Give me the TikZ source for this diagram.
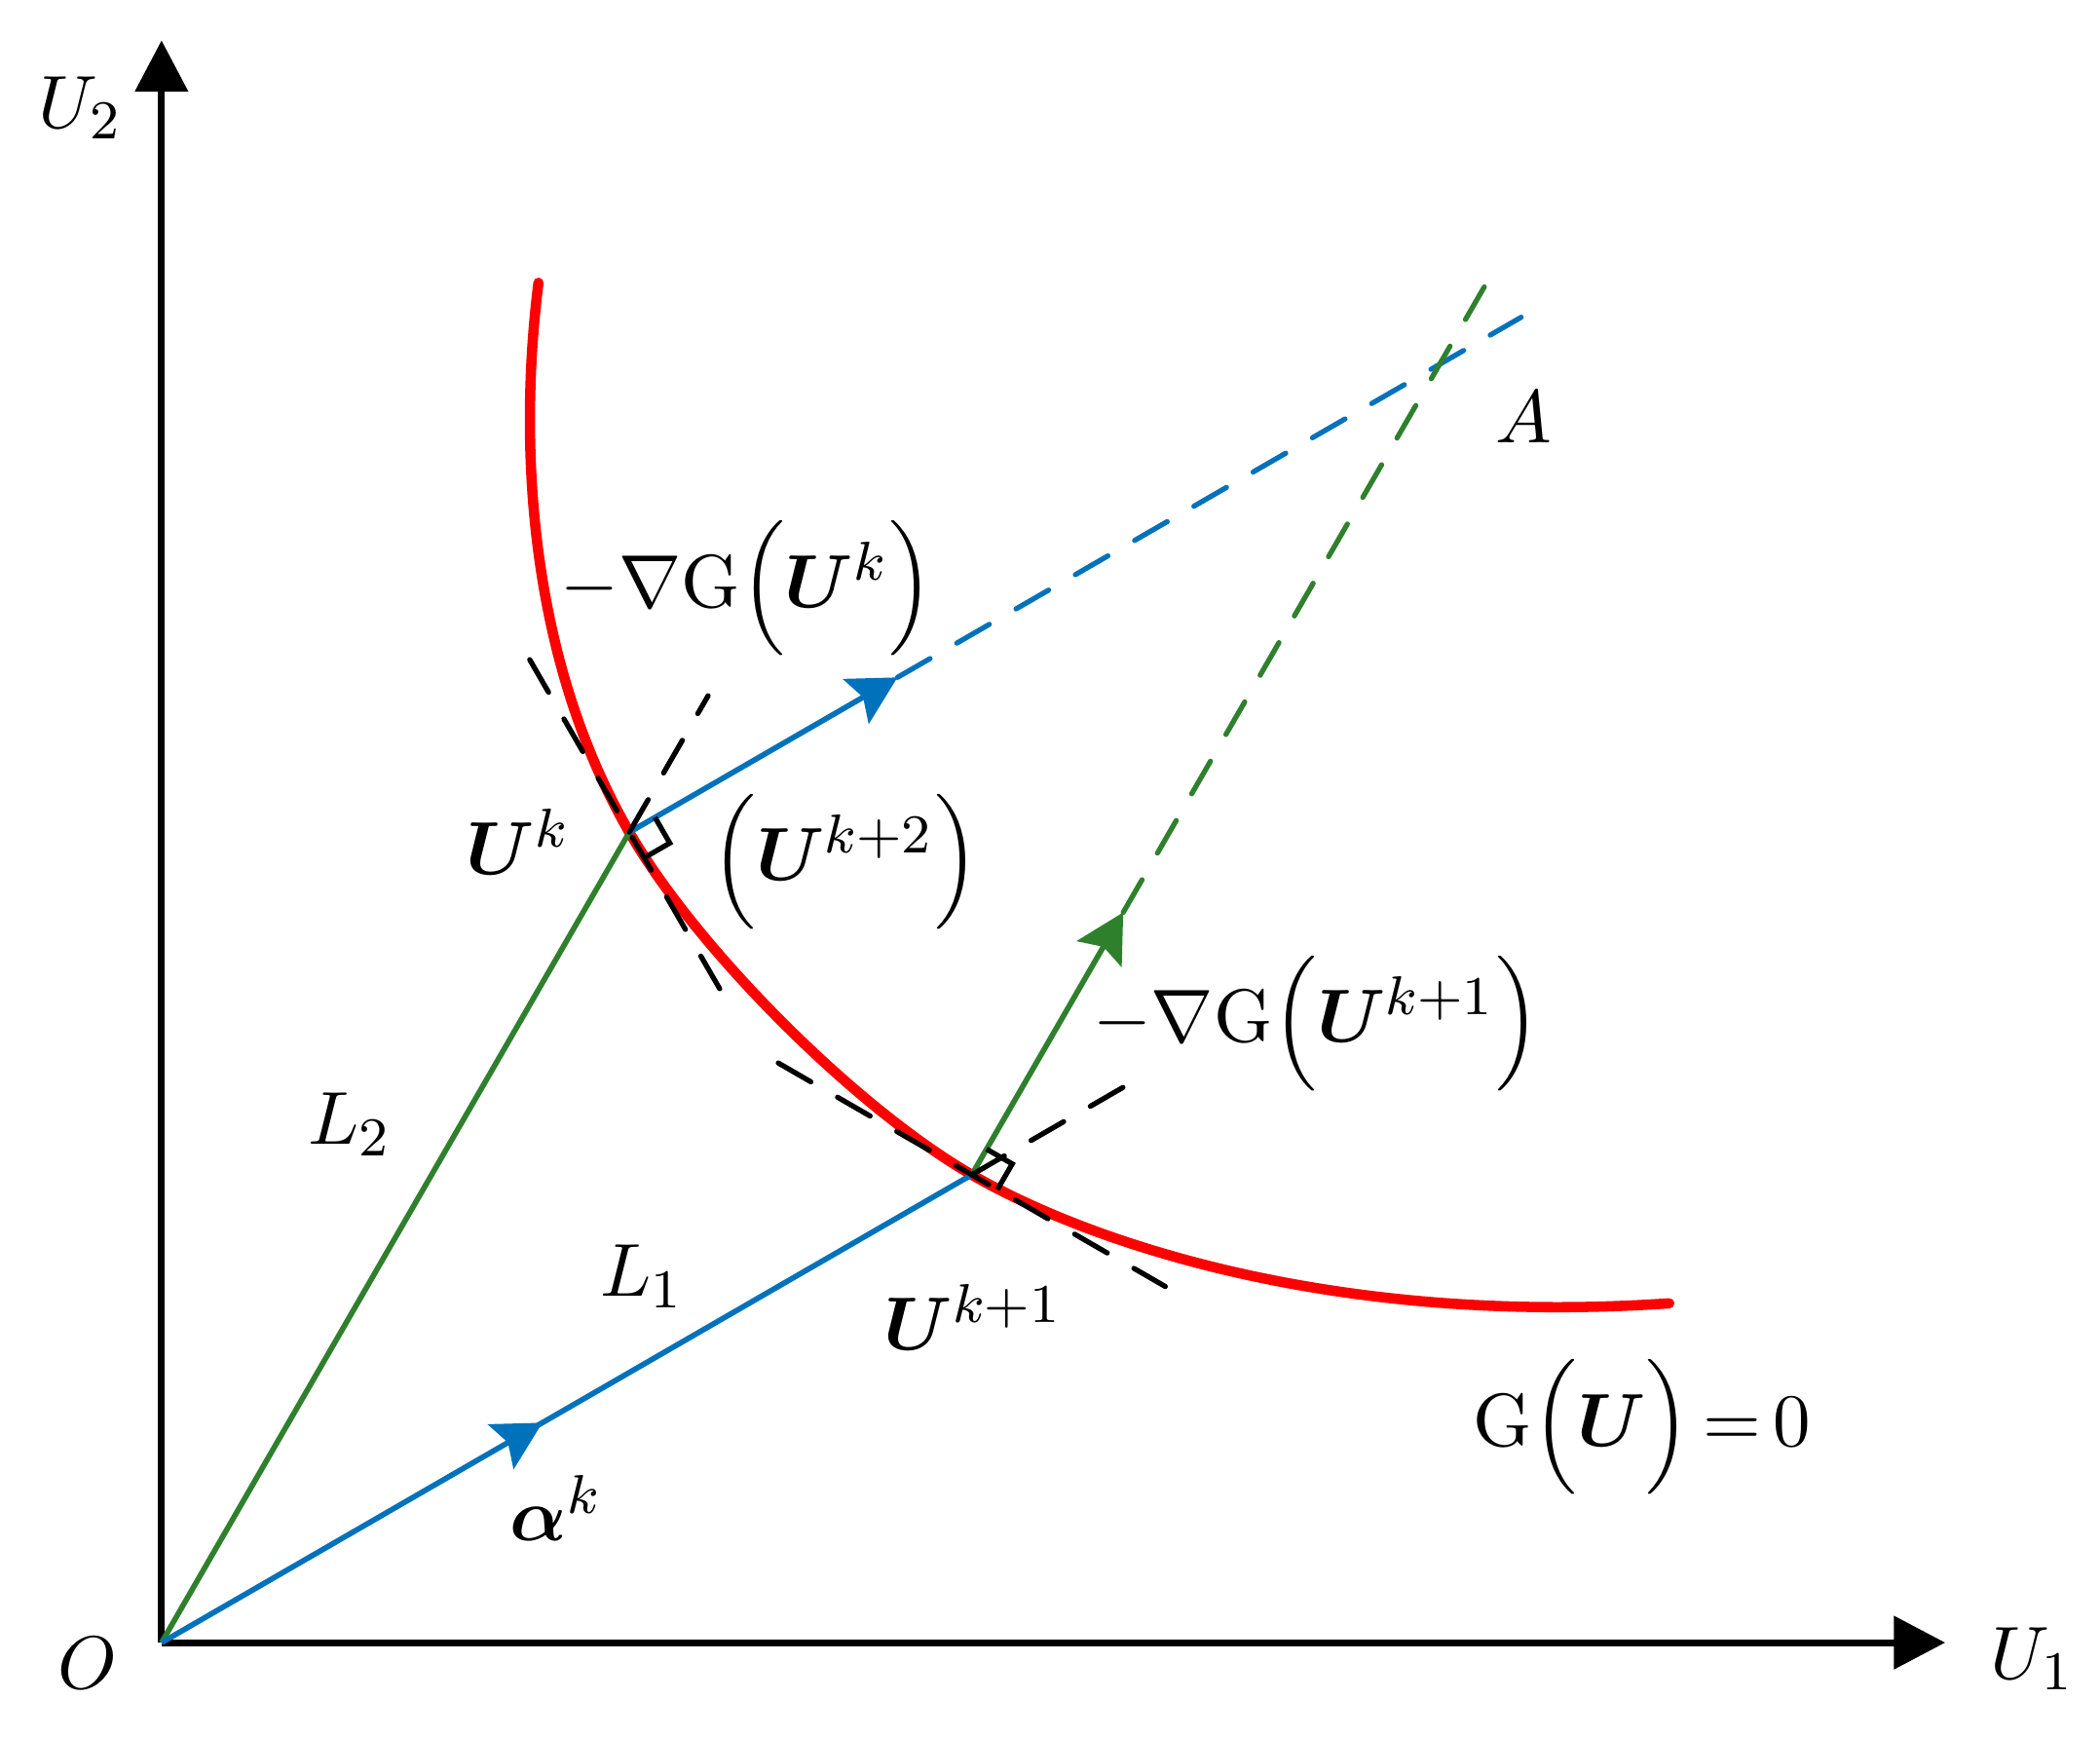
\documentclass[tikz,border=0pt]{standalone}
\usepackage{amsmath}
\usepackage{bm}
\usetikzlibrary{arrows.meta,calc,decorations.markings}

\definecolor{gradblue}{RGB}{0,114,188}
\definecolor{gradgreen}{RGB}{47,128,45}

\tikzset{
  axis/.style={line width=1pt,-{Triangle[length=7.5pt,width=7.6pt]}},
  bluevec/.style={gradblue,line width=0.8pt},
  greenvec/.style={gradgreen,line width=0.8pt},
  dashline/.style={line width=0.75pt,dash pattern=on 5.5pt off 4.5pt,line cap=round},
  vectip/.style={-{Stealth[length=7pt,width=7.5pt,inset=1.2pt]}},
  rightmark/.style={line width=0.75pt},
  curve/.style={red,line width=1.5pt,line cap=round},
  lbl/.style={inner sep=0pt,font=\fontsize{11}{13}\selectfont},
}

\begin{document}
\begin{tikzpicture}[x=0.00691cm,y=0.00691cm]
        \useasboundingbox (0,0) rectangle (1560,1290);

        \coordinate (O) at (120,70);
        \coordinate (Uk) at ($(O)+(60:695)$);
        \coordinate (Uk1) at ($(O)+(30:695)$);
        \coordinate (U2end) at (120,1260);
        \coordinate (U1end) at (1445,70);

        % axes
        \draw[axis] (O) -- (U2end);
        \draw[axis] (O) -- (U1end);

        % the curve G(U)=0
        \draw[curve] (400,1080) .. controls (385,960) and ($(Uk)+(120:150)$) .. (Uk)
              .. controls ($(Uk)+(-60:100)$) and ($(Uk1)+(150:100)$) .. (Uk1)
              .. controls ($(Uk1)+(-30:100)$) and (990,305) .. (1240,322);

        % L_2 and L_1
        \draw[greenvec] (O) -- (Uk);
        \draw[bluevec,postaction={decorate},
              decoration={markings,mark=at position 0.47 with {\arrow{Stealth[length=7pt,width=7.5pt,inset=1.2pt]}}}]
              (O) -- (Uk1);

        % gradients
        \coordinate (gk) at ($(Uk)+(30:230)$);
        \coordinate (Ablue) at ($(Uk)+(30:765)$);
        \coordinate (gk1) at ($(Uk1)+(60:225)$);
        \coordinate (Agreen) at ($(Uk1)+(60:770)$);
        \draw[bluevec,vectip] (Uk) -- (gk);
        \draw[bluevec,dashline] (gk) -- (Ablue);
        \draw[greenvec,vectip] (Uk1) -- (gk1);
        \draw[greenvec,dashline] (gk1) -- (Agreen);

        % tangents and normals
        \draw[dashline] ($(Uk)+(120:148)$) -- ($(Uk)+(-60:146)$);
        \draw[dashline] (Uk) -- ($(Uk)+(60:117)$);
        \draw[dashline] ($(Uk1)+(150:166)$) -- ($(Uk1)+(-30:166)$);
        \draw[dashline] (Uk1) -- ($(Uk1)+(30:134)$);

        \draw[rightmark] ($(Uk)+(30:22)$) -- ++(-60:22) -- ++(210:22);
        \draw[rightmark] ($(Uk1)+(60:22)$) -- ++(-30:22) -- ++(240:22);

        % labels
        \node[lbl] (U2lbl) at (60,1210) {$U_2$};
        \node[lbl] (U1lbl) at (1510,58) {$U_1$};
        \node[lbl] (Olbl) at (65,55) {$O$};
        \node[lbl] (Albl) at (1132,980) {$A$};
        \node[lbl] (gradk) at (555,853) {$-\nabla\mathrm{G}\Bigl(\bm{U}^{k}\Bigr)$};
        \node[lbl] (Uklbl) at (385,665) {$\bm{U}^{k}$};
        \node[lbl] (Uk2lbl) at (628,650) {$\Bigl(\bm{U}^{k+2}\Bigr)$};
        \node[lbl] (gradk1) at (978,530) {$-\nabla\mathrm{G}\Bigl(\bm{U}^{k+1}\Bigr)$};
        \node[lbl] (L2lbl) at (260,455) {$L_2$};
        \node[lbl] (L1lbl) at (477,342) {$L_1$};
        \node[lbl] (Uk1lbl) at (723,312) {$\bm{U}^{k+1}$};
        \node[lbl] (alphalbl) at (413,170) {$\bm{\alpha}^{k}$};
        \node[lbl] (Glbl) at (1220,230) {$\mathrm{G}\Bigl(\bm{U}\Bigr)\,{=}\,0$};

\end{tikzpicture}
\end{document}
